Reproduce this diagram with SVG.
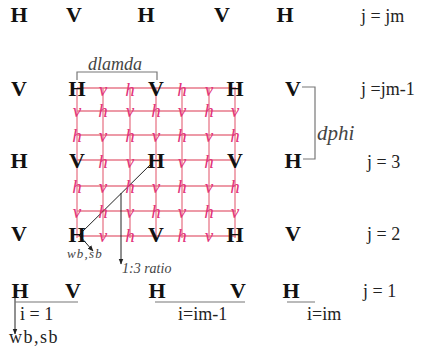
<svg xmlns="http://www.w3.org/2000/svg" width="427" height="350" viewBox="0 0 427 350">
<defs>
<style>
.B{font-family:"Liberation Serif",serif;font-weight:bold;font-size:22px;fill:#111;text-anchor:middle}
.p{font-family:"Liberation Serif",serif;font-style:italic;font-size:19px;fill:#e2337a;text-anchor:middle}
.t{font-family:"Liberation Serif",serif;font-size:18px;fill:#222}
.it{font-family:"Liberation Serif",serif;font-style:italic;fill:#444}
.g{stroke:#e8798a;stroke-width:1.3;fill:none}
.k{stroke:#222;stroke-width:1;fill:none}
.gr{stroke:#777;stroke-width:1.2;fill:none}
</style>
<marker id="ah" viewBox="0 0 10 10" refX="9" refY="5" markerWidth="6" markerHeight="6" orient="auto">
<path d="M0,1 L10,5 L0,9 z" fill="#222"/>
</marker>
</defs>
<rect width="427" height="350" fill="#fff"/>
<g id="grid">
<path class="g" d="M77,88H236M77,111H236M77,135H236M77,160H236M77,186H236M77,211H236M77,236H236"/>
<path class="g" d="M77,88V238M103,88V238M130,88V238M156,88V238M182,88V238M209,88V238M235,88V238"/>
</g>
<g id="connectors">
<path class="gr" d="M77,80V72H157V80"/>
<path class="gr" d="M302,87H315V159H303"/>
<path class="k" d="M152,163L79,235"/>
<path class="k" d="M79,235L93,251" marker-end="url(#ah)"/>
<path class="k" d="M121,193V264" marker-end="url(#ah)"/>
<path class="k" d="M15,289V334" marker-end="url(#ah)"/>
<path class="gr" d="M15,302H78M155,302H245M287,302H315"/>
</g>
<g id="row-jm">
<text class="B" x="19" y="22">H</text><text class="B" x="74" y="22">V</text><text class="B" x="146" y="22">H</text><text class="B" x="222" y="22">V</text><text class="B" x="285" y="22">H</text>
</g>
<g id="row-jm-1">
<text class="B" x="19" y="96">V</text><text class="B" x="77" y="96">H</text><text class="p" x="103" y="96">v</text><text class="p" x="130" y="96">h</text><text class="B" x="156" y="96">V</text><text class="p" x="182" y="96">h</text><text class="p" x="209" y="96">v</text><text class="B" x="235" y="96">H</text><text class="B" x="293" y="96">V</text>
</g>
<g id="row-a">
<text class="p" x="77" y="117">v</text><text class="p" x="103" y="117">h</text><text class="p" x="130" y="117">v</text><text class="p" x="156" y="117">h</text><text class="p" x="182" y="117">v</text><text class="p" x="209" y="117">h</text><text class="p" x="235" y="117">v</text>
</g>
<g id="row-b">
<text class="p" x="77" y="142">h</text><text class="p" x="103" y="142">v</text><text class="p" x="130" y="142">h</text><text class="p" x="156" y="142">v</text><text class="p" x="182" y="142">h</text><text class="p" x="209" y="142">v</text><text class="p" x="235" y="142">h</text>
</g>
<g id="row-3">
<text class="B" x="19" y="168">H</text><text class="B" x="77" y="168">V</text><text class="p" x="103" y="168">h</text><text class="p" x="130" y="168">v</text><text class="B" x="156" y="168">H</text><text class="p" x="182" y="168">v</text><text class="p" x="209" y="168">h</text><text class="B" x="235" y="168">V</text><text class="B" x="293" y="168">H</text>
</g>
<g id="row-c">
<text class="p" x="77" y="193">h</text><text class="p" x="103" y="193">v</text><text class="p" x="130" y="193">h</text><text class="p" x="156" y="193">v</text><text class="p" x="182" y="193">h</text><text class="p" x="209" y="193">v</text><text class="p" x="235" y="193">h</text>
</g>
<g id="row-d">
<text class="p" x="77" y="218">v</text><text class="p" x="103" y="218">h</text><text class="p" x="130" y="218">v</text><text class="p" x="156" y="218">h</text><text class="p" x="182" y="218">v</text><text class="p" x="209" y="218">h</text><text class="p" x="235" y="218">v</text>
</g>
<g id="row-2">
<text class="B" x="19" y="241">V</text><text class="B" x="77" y="242">H</text><text class="p" x="103" y="242">v</text><text class="p" x="130" y="242">h</text><text class="B" x="156" y="242">V</text><text class="p" x="182" y="242">h</text><text class="p" x="209" y="242">v</text><text class="B" x="235" y="242">H</text><text class="B" x="293" y="241">V</text>
</g>
<g id="row-1">
<text class="B" x="20" y="298">H</text><text class="B" x="73" y="298">V</text><text class="B" x="157" y="298">H</text><text class="B" x="238" y="298">V</text><text class="B" x="291" y="298">H</text>
</g>
<g id="labels">
<text class="it" x="115" y="70" font-size="18" text-anchor="middle">dlamda</text>
<text class="it" x="317" y="140" font-size="21">dphi</text>
<text class="it" x="67" y="258" font-size="13" letter-spacing="1.2">wb,sb</text>
<text class="it" x="122" y="273" font-size="14">1:3 ratio</text>
<text class="t" x="361" y="22">j = jm</text>
<text class="t" x="361" y="95">j =jm-1</text>
<text class="t" x="367" y="168">j = 3</text>
<text class="t" x="367" y="240">j = 2</text>
<text class="t" x="363" y="297">j = 1</text>
<text class="t" x="20" y="320">i = 1</text>
<text class="t" x="178" y="320">i=im-1</text>
<text class="t" x="307" y="320">i=im</text>
<text class="t" x="9" y="343" font-size="19" letter-spacing="1.5">wb,sb</text>
</g>
</svg>
